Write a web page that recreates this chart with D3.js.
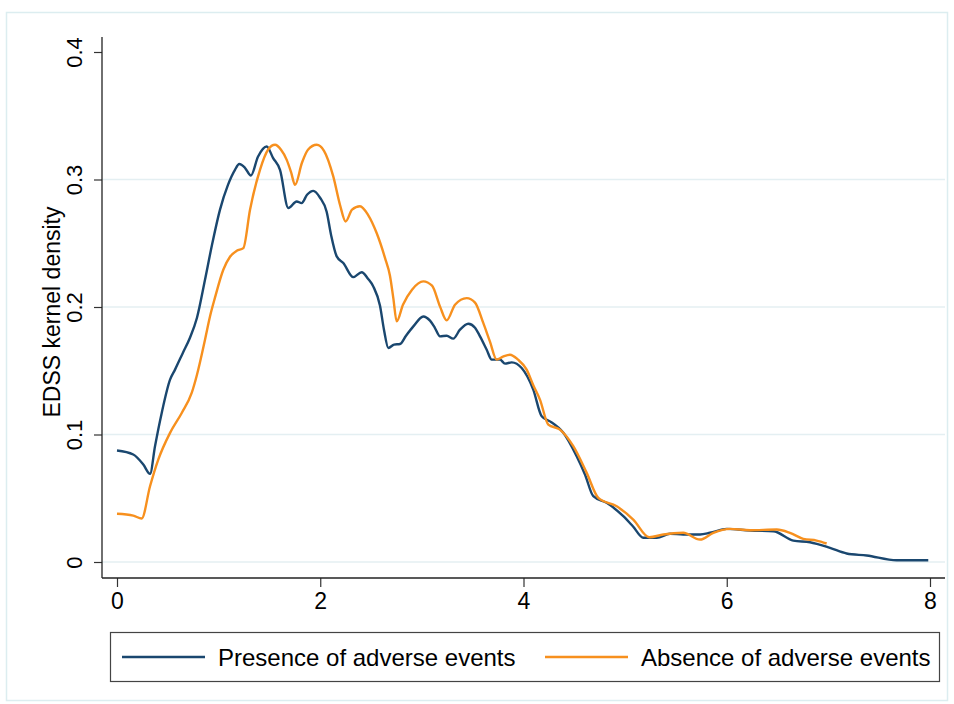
<!DOCTYPE html>
<html>
<head>
<meta charset="utf-8">
<script src="https://cdn.jsdelivr.net/npm/d3@7"></script>
<style>
  html, body { margin: 0; padding: 0; background: #ffffff; }
  svg { display: block; font-family: "Liberation Sans", Arial, Helvetica, sans-serif; }
</style>
</head>
<body>
<div id="chart"></div>
<script>
// EDSS kernel density, by presence / absence of adverse events

const presenceX = [0.000, 0.160, 0.259, 0.325, 0.374, 0.440, 0.522, 0.571, 0.649, 0.718, 0.787, 0.866, 0.935, 1.013, 1.092, 1.161, 1.203, 1.259, 1.318, 1.387, 1.473, 1.535, 1.604, 1.686, 1.768, 1.817, 1.870, 1.932, 1.998, 2.063, 2.106, 2.162, 2.227, 2.325, 2.408, 2.470, 2.522, 2.588, 2.627, 2.670, 2.726, 2.785, 2.844, 2.916, 3.014, 3.080, 3.129, 3.178, 3.244, 3.309, 3.375, 3.457, 3.523, 3.572, 3.638, 3.687, 3.769, 3.818, 3.884, 3.982, 4.096, 4.179, 4.261, 4.392, 4.523, 4.605, 4.687, 4.818, 4.982, 5.078, 5.179, 5.311, 5.442, 5.572, 5.737, 5.835, 5.999, 6.229, 6.458, 6.655, 6.819, 7.016, 7.180, 7.377, 7.672, 7.983];
const presenceY = [0.0874, 0.0843, 0.0764, 0.0691, 0.0908, 0.1169, 0.1430, 0.1509, 0.1642, 0.1759, 0.1916, 0.2214, 0.2488, 0.2762, 0.2958, 0.3076, 0.3121, 0.3092, 0.3031, 0.3178, 0.3259, 0.3170, 0.3076, 0.2776, 0.2828, 0.2815, 0.2880, 0.2911, 0.2857, 0.2747, 0.2567, 0.2397, 0.2345, 0.2234, 0.2273, 0.2222, 0.2161, 0.2010, 0.1822, 0.1679, 0.1705, 0.1710, 0.1775, 0.1848, 0.1926, 0.1893, 0.1835, 0.1770, 0.1775, 0.1752, 0.1822, 0.1869, 0.1838, 0.1770, 0.1665, 0.1587, 0.1587, 0.1556, 0.1566, 0.1522, 0.1352, 0.1143, 0.1103, 0.1013, 0.0829, 0.0686, 0.0516, 0.0464, 0.0359, 0.0278, 0.0190, 0.0190, 0.0221, 0.0216, 0.0216, 0.0229, 0.0260, 0.0247, 0.0241, 0.0168, 0.0155, 0.0111, 0.0067, 0.0051, 0.0014, 0.0014];

const absenceX = [0.000, 0.160, 0.243, 0.325, 0.406, 0.522, 0.637, 0.735, 0.787, 0.866, 0.915, 0.964, 1.046, 1.112, 1.178, 1.243, 1.309, 1.407, 1.486, 1.555, 1.614, 1.670, 1.712, 1.752, 1.820, 1.879, 1.965, 2.037, 2.128, 2.194, 2.250, 2.313, 2.391, 2.470, 2.555, 2.637, 2.686, 2.719, 2.752, 2.814, 2.903, 3.014, 3.100, 3.178, 3.244, 3.326, 3.441, 3.523, 3.604, 3.670, 3.736, 3.798, 3.867, 3.946, 4.031, 4.094, 4.162, 4.244, 4.359, 4.490, 4.622, 4.736, 4.917, 5.080, 5.238, 5.376, 5.572, 5.737, 5.868, 6.032, 6.229, 6.492, 6.622, 6.753, 6.884, 6.983];
const absenceY = [0.0378, 0.0364, 0.0341, 0.0594, 0.0803, 0.1013, 0.1169, 0.1326, 0.1469, 0.1744, 0.1926, 0.2073, 0.2292, 0.2394, 0.2441, 0.2462, 0.2763, 0.3076, 0.3233, 0.3272, 0.3233, 0.3154, 0.3060, 0.2958, 0.3131, 0.3233, 0.3272, 0.3225, 0.3024, 0.2802, 0.2671, 0.2763, 0.2790, 0.2723, 0.2580, 0.2385, 0.2245, 0.2070, 0.1887, 0.2018, 0.2136, 0.2201, 0.2167, 0.2005, 0.1895, 0.2018, 0.2070, 0.2034, 0.1875, 0.1728, 0.1587, 0.1610, 0.1626, 0.1587, 0.1509, 0.1391, 0.1274, 0.1078, 0.1038, 0.0908, 0.0699, 0.0503, 0.0437, 0.0333, 0.0194, 0.0216, 0.0229, 0.0176, 0.0229, 0.0260, 0.0249, 0.0255, 0.0229, 0.0182, 0.0168, 0.0145];

const xTicks = [0, 2, 4, 6, 8];
const yTicks = [0, 0.1, 0.2, 0.3, 0.4];
const gridTicks = [0, 0.1, 0.2, 0.3];
const seriesNames = ['Presence of adverse events', 'Absence of adverse events'];
const seriesColors = ['#1a476f', '#f7901e'];

const W = 954, H = 704;
const axisX = 102, axisY = 578, plotRight = 945, plotTop = 37;

const svg = d3.select('#chart').append('svg')
  .attr('width', W)
  .attr('height', H);

svg.append('rect')
  .attr('x', 6.5).attr('y', 12.5)
  .attr('width', 941).attr('height', 688)
  .attr('fill', '#ffffff')
  .attr('stroke', '#dcedf0')
  .attr('stroke-width', 1.5);

const x = d3.scaleLinear().domain([0, 8]).range([117, 930]);
const y = d3.scaleLinear().domain([0, 0.4]).range([562, 52]);

// gridlines
svg.append('g').selectAll('line')
  .data(gridTicks)
  .join('line')
  .attr('x1', axisX).attr('x2', plotRight)
  .attr('y1', d => y(d)).attr('y2', d => y(d))
  .attr('stroke', '#e4eff2')
  .attr('stroke-width', 1.6);

// y axis
const yAxis = svg.append('g')
  .attr('transform', `translate(${axisX},0)`)
  .call(d3.axisLeft(y).tickValues(yTicks).tickSize(8).tickSizeOuter(0).tickFormat(d3.format('')));
yAxis.select('.domain').remove();
yAxis.selectAll('.tick line').attr('stroke', '#333').attr('stroke-width', 1.2);
yAxis.selectAll('.tick text').remove();
yAxis.selectAll('.tick').append('text')
  .attr('transform', 'translate(-20,0) rotate(-90)')
  .attr('text-anchor', 'middle')
  .attr('fill', '#000')
  .style('font-size', '22px')
  .text(d => d === 0 ? '0' : d3.format('.1f')(d));

svg.append('line')
  .attr('x1', axisX).attr('x2', axisX)
  .attr('y1', plotTop).attr('y2', axisY)
  .attr('stroke', '#222').attr('stroke-width', 1.3);

// x axis
const xAxis = svg.append('g')
  .attr('transform', `translate(0,${axisY})`)
  .call(d3.axisBottom(x).tickValues(xTicks).tickSize(9).tickSizeOuter(0).tickFormat(d3.format('d')));
xAxis.select('.domain').remove();
xAxis.selectAll('.tick line').attr('stroke', '#333').attr('stroke-width', 1.2);
xAxis.selectAll('.tick text')
  .attr('y', 31)
  .attr('dy', 0)
  .attr('fill', '#000')
  .style('font-size', '23px');

svg.append('line')
  .attr('x1', axisX).attr('x2', plotRight)
  .attr('y1', axisY).attr('y2', axisY)
  .attr('stroke', '#222').attr('stroke-width', 1.3);

// y title
svg.append('text')
  .attr('transform', 'translate(60,312) rotate(-90)')
  .attr('text-anchor', 'middle')
  .style('font-size', '23px')
  .attr('fill', '#000')
  .text('EDSS kernel density');

// density lines
const line = d3.line()
  .x(d => x(d[0]))
  .y(d => y(d[1]))
  .curve(d3.curveMonotoneX);

const series = [
  d3.zip(presenceX, presenceY),
  d3.zip(absenceX, absenceY),
];

svg.append('g').selectAll('path')
  .data(series)
  .join('path')
  .attr('d', line)
  .attr('fill', 'none')
  .attr('stroke', (d, i) => seriesColors[i])
  .attr('stroke-width', 2.4)
  .attr('stroke-linejoin', 'round');

// legend
const legend = svg.append('g');
legend.append('rect')
  .attr('x', 110.5).attr('y', 632.5)
  .attr('width', 829).attr('height', 49)
  .attr('fill', '#fff')
  .attr('stroke', '#444')
  .attr('stroke-width', 1.2);

const legendX = [122, 545];
const item = legend.selectAll('.item')
  .data(seriesNames)
  .join('g')
  .attr('class', 'item')
  .attr('transform', (d, i) => `translate(${legendX[i]},657)`);

item.append('line')
  .attr('x1', 0).attr('x2', 83)
  .attr('stroke', (d, i) => seriesColors[i])
  .attr('stroke-width', 2.4);

item.append('text')
  .attr('x', 96)
  .attr('y', 9)
  .style('font-size', '24px')
  .attr('fill', '#000')
  .text(d => d);
</script>
</body>
</html>
